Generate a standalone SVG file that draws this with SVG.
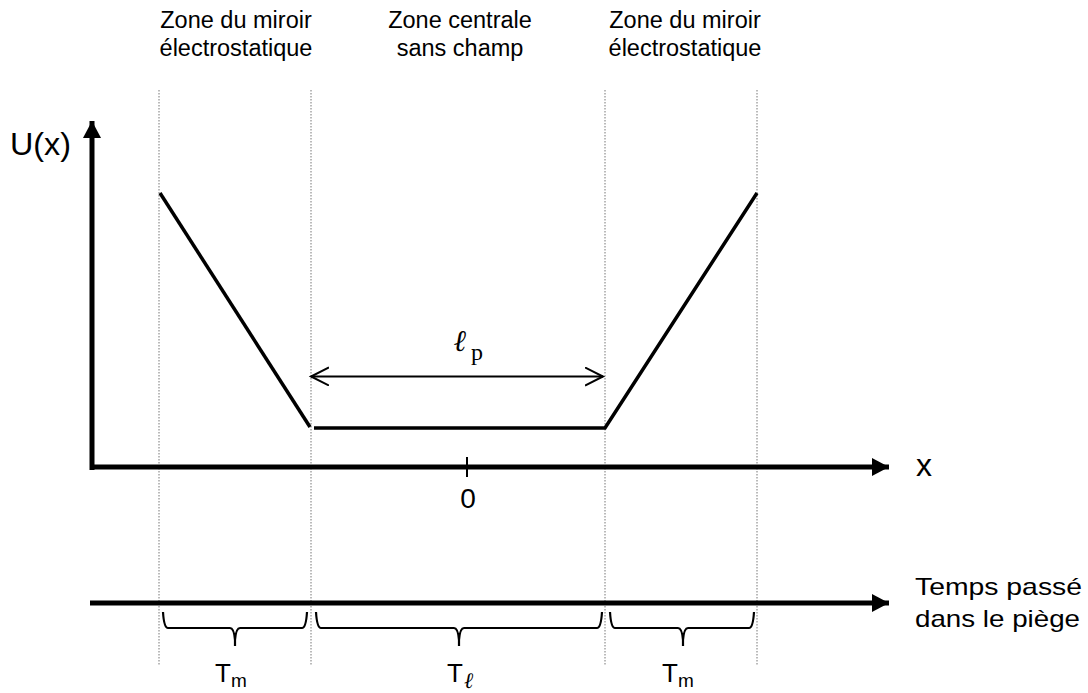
<svg xmlns="http://www.w3.org/2000/svg" width="1088" height="693" viewBox="0 0 1088 693">
<style>
.t{font-family:"Liberation Sans",Arial,sans-serif;fill:#000}
.lbl{font-size:23.5px;text-anchor:middle}
.ell{font-family:"Liberation Serif",serif;font-style:italic}
.guide{stroke:#777;stroke-width:1;stroke-dasharray:1.5 1.5;fill:none}
.curve{stroke:#000;stroke-width:3.5;fill:none}
.axis{stroke:#000;stroke-width:5;fill:none}
.brace{stroke:#000;stroke-width:2.2;fill:none}
</style>
<defs>
<marker id="ah" markerUnits="userSpaceOnUse" markerWidth="20" markerHeight="20" refX="17" refY="9" orient="auto">
<path d="M0,0 L17,9 L0,18 Z" fill="#000"/>
</marker>
<marker id="open" markerUnits="userSpaceOnUse" markerWidth="22" markerHeight="22" refX="18" refY="9.5" orient="auto-start-reverse">
<path d="M0,0.5 L18,9.5 L0,18.5" fill="none" stroke="#000" stroke-width="2"/>
</marker>
</defs>
<g id="guides">
<line class="guide" x1="159" y1="90" x2="159" y2="665"/>
<line class="guide" x1="311" y1="90" x2="311" y2="665"/>
<line class="guide" x1="605" y1="90" x2="605" y2="665"/>
<line class="guide" x1="757" y1="90" x2="757" y2="665"/>
</g>
<g id="zone-labels">
<text class="t lbl" x="236" y="28">Zone du miroir</text>
<text class="t lbl" x="236" y="56">électrostatique</text>
<text class="t lbl" x="460" y="28">Zone centrale</text>
<text class="t lbl" x="460" y="56">sans champ</text>
<text class="t lbl" x="685" y="28">Zone du miroir</text>
<text class="t lbl" x="685" y="56">électrostatique</text>
</g>
<g id="connectors">
<line class="axis" x1="92" y1="470" x2="92" y2="121" marker-end="url(#ah)"/>
<line class="axis" x1="90" y1="467" x2="889" y2="467" marker-end="url(#ah)"/>
<line class="axis" x1="90" y1="603" x2="889" y2="603" marker-end="url(#ah)"/>
<line x1="467" y1="457" x2="467" y2="477" stroke="#000" stroke-width="2"/>
<polyline class="curve" points="160,193 310,427"/>
<polyline class="curve" points="314,428 605,428 757,193"/>
<line x1="311" y1="376.5" x2="603" y2="376.5" stroke="#000" stroke-width="2" marker-start="url(#open)" marker-end="url(#open)"/>
</g>
<g id="braces">
<path class="brace" d="M163,612 Q164,628 168,628 L230,628 Q234,628 235,640 L235,646 M235,640 Q236,628 240,628 L302,628 Q306,628 307,612"/>
<path class="brace" d="M316,612 Q317,628 321,628 L454,628 Q458,628 459,640 L459,646 M459,640 Q460,628 464,628 L597,628 Q601,628 602,612"/>
<path class="brace" d="M610,612 Q611,628 615,628 L678,628 Q682,628 683,640 L683,646 M683,640 Q684,628 688,628 L749,628 Q753,628 754,612"/>
</g>
<g id="axis-labels">
<text class="t" x="10" y="155" font-size="31" textLength="61" lengthAdjust="spacingAndGlyphs">U(x)</text>
<text class="t" x="916" y="476" font-size="32">x</text>
<text class="t" x="468" y="508" font-size="28" text-anchor="middle">0</text>
<text class="t" x="915" y="595" font-size="24" textLength="167" lengthAdjust="spacingAndGlyphs">Temps passé</text>
<text class="t" x="915" y="627" font-size="24" textLength="165" lengthAdjust="spacingAndGlyphs">dans le piège</text>
<text class="ell" x="454" y="351" font-size="30" font-weight="bold">ℓ</text>
<text x="471" y="360" font-family="Liberation Serif,serif" font-size="24">p</text>
</g>
<g id="time-labels">
<text class="t" x="215" y="682" font-size="26">T<tspan font-size="19" dy="5">m</tspan></text>
<text class="t" x="447" y="682" font-size="26">T<tspan class="ell" font-size="22" dy="6" dx="1">ℓ</tspan></text>
<text class="t" x="662" y="682" font-size="26">T<tspan font-size="19" dy="5">m</tspan></text>
</g>
</svg>
